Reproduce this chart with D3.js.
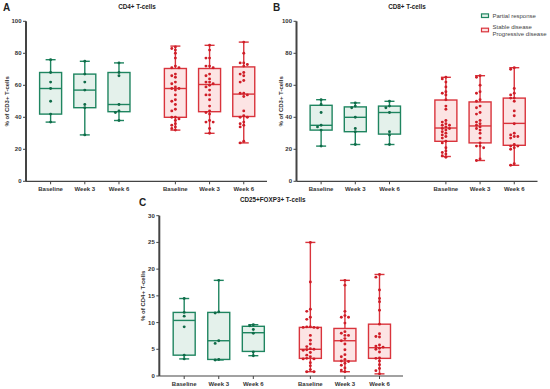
<!DOCTYPE html>
<html>
<head>
<meta charset="utf-8">
<script src="https://cdn.jsdelivr.net/npm/d3@7"></script>
<style>
    body { margin: 0; background: #fff; }
    svg { display: block; font-family: "Liberation Sans", Arial, sans-serif; }
    .tick-label { font-size: 6px; font-weight: bold; fill: #333; }
    .panel-title { font-size: 6.3px; font-weight: bold; fill: #222; }
    .panel-letter { font-size: 10px; font-weight: bold; fill: #222; }
    .legend-text { font-size: 6px; fill: #444; }
</style>
</head>
<body>
<svg id="chart" width="550" height="389"></svg>
<script>
// categories: first three = partial response, last three = stable / progressive disease
const categories = ['Baseline', 'Week 3', 'Week 6', 'Baseline', 'Week 3', 'Week 6'];
const groupOf = ['pr', 'pr', 'pr', 'sd', 'sd', 'sd'];
const legendLabels = ['Partial response', 'Stable disease', 'Progressive disease'];

// box stats per category: [min, q1, median, q3, max]
const cd4Boxes = [
    [37, 42, 58, 68, 76],
    [29, 46, 57, 67, 75],
    [38, 43.5, 48, 68, 74],
    [32, 40, 58, 70.5, 84.5],
    [30, 43.5, 60.5, 70.5, 85],
    [24, 40.5, 54.5, 71.5, 87],
];
const cd4Points = [
    [76, 68, 62, 58, 50, 42, 37],
    [75, 67, 62, 57, 48, 46, 29],
    [74, 68, 66, 48, 44, 43, 38],
    [84, 83, 82, 80, 77, 72, 71, 71, 67, 66, 65, 62, 61, 59, 58, 58, 57, 54, 51, 50, 48, 45, 44, 40, 40, 39, 38, 36, 35, 34, 33, 32],
    [85, 82, 77, 77, 72, 72, 71, 67, 66, 64, 62, 62, 61, 60, 59, 57, 54, 54, 51, 47, 44, 43, 42, 38, 37, 37, 33, 30],
    [87, 80, 74, 74, 73, 72, 68, 67, 66, 63, 62, 55, 55, 54, 53, 44, 41, 40, 40, 37, 36, 35, 34, 25, 24],
];

const cd8Boxes = [
    [22, 32, 35, 47.5, 51],
    [23, 31, 40, 46.5, 49],
    [23, 29.5, 43, 47, 50],
    [15.5, 25, 33.3, 50.8, 65],
    [13, 24, 34.6, 49.6, 66],
    [10, 22.5, 36.2, 52, 71],
];
const cd8Points = [
    [51, 48, 43, 35, 34, 32, 22],
    [49, 47, 46, 40, 33, 31, 23],
    [50, 47, 46, 43, 31, 29, 23],
    [65, 64, 62, 59, 56, 55, 54, 51, 47, 45, 38, 37, 36, 35, 35, 34, 33, 33, 32, 31, 30, 29, 28, 27, 25, 24, 21, 19, 18, 17, 16, 15],
    [66, 65, 60, 56, 55, 51, 50, 47, 46, 43, 42, 38, 37, 36, 35, 34, 33, 32, 30, 27, 24, 22, 22, 21, 14, 13],
    [71, 70, 58, 55, 54, 52, 52, 50, 44, 41, 36, 30, 29, 28, 28, 27, 23, 22, 22, 21, 20, 11, 10],
];

const tregBoxes = [
    [3.2, 3.9, 10.4, 11.9, 14.5],
    [3.0, 3.1, 6.6, 11.9, 17.9],
    [3.8, 4.6, 8.1, 9.3, 9.6],
    [0.8, 3.3, 5.0, 9.1, 25],
    [0.8, 2.8, 6.6, 8.9, 17.9],
    [0.4, 3.3, 5.3, 9.7, 19],
];
const tregPoints = [
    [14.5, 11.9, 11.2, 9.2, 3.9, 3.2],
    [17.9, 12, 11.8, 6.6, 6.1, 3.1, 3.0],
    [9.6, 9.4, 8.7, 8.0, 4.5, 3.8],
    [25, 17.6, 12.5, 12.1, 11.0, 10.6, 9.2, 9.2, 9.1, 9.1, 9.0, 7.6, 6.7, 6.0, 5.5, 5.1, 5.0, 4.9, 4.8, 4.4, 3.9, 3.6, 3.3, 3.2, 3.2, 2.5, 1.9, 1.2, 0.8, 0.8],
    [17.9, 17.0, 12.1, 11.3, 11.0, 11.0, 9.9, 8.3, 8.0, 7.6, 7.6, 7.0, 6.6, 6.0, 4.9, 4.0, 3.6, 3.1, 2.8, 2.7, 2.4, 2.0, 1.5, 1.1, 0.8],
    [19, 18.5, 16.1, 14.5, 13.9, 12.3, 9.7, 7.9, 7.4, 7.3, 5.8, 5.6, 5.4, 5.2, 5.0, 4.5, 3.4, 3.3, 2.8, 2.1, 1.4, 1.0, 0.4],
];

const cd4Ticks = [0, 20, 40, 60, 80, 100];
const tregTicks = [0, 5, 10, 15, 20, 25, 30];

const colors = {
    pr: { stroke: '#1f8560', fill: '#e4f1eb', dot: '#0f6b48' },
    sd: { stroke: '#d9343c', fill: '#fce4e4', dot: '#cf1e28' },
};

// category positions with a gap between the two response groups
const slotPos = [0, 1, 2, 3.65, 4.65, 5.65];

const svg = d3.select('#chart');

// spread overlapping points sideways (GraphPad style scatter)
function spreadPoints(values, y, step, minGap) {
    const placed = [];
    const sorted = values.slice().sort((a, b) => b - a);
    return sorted.map((v) => {
        const py = y(v);
        const offsets = [0, -1, 1, -2, 2, -3, 3, -4, 4];
        let off = 0;
        for (const o of offsets) {
            const ox = o * step;
            const clash = placed.some((p) => Math.abs(p.y - py) < minGap && Math.abs(p.x - ox) < step * 0.9);
            if (!clash) { off = ox; break; }
        }
        placed.push({ x: off, y: py });
        return { v, x: off, y: py };
    });
}

function drawPanel(opts) {
    const g = svg.append('g');
    const x = d3.scaleLinear().domain([-0.72, 6.33]).range(opts.xRange);
    const y = d3.scaleLinear().domain(opts.yDomain).range(opts.yRange);
    const boxW = 22;
    const capW = 10;

    // y axis
    g.append('line')
        .attr('x1', opts.xRange[0]).attr('x2', opts.xRange[0])
        .attr('y1', y(opts.yDomain[0])).attr('y2', y(opts.yDomain[1]))
        .attr('stroke', '#444').attr('stroke-width', 2);
    opts.ticks.forEach((t) => {
        g.append('line')
            .attr('x1', opts.xRange[0] - 3).attr('x2', opts.xRange[0])
            .attr('y1', y(t)).attr('y2', y(t))
            .attr('stroke', '#444').attr('stroke-width', 1);
        g.append('text')
            .attr('class', 'tick-label')
            .attr('x', opts.xRange[0] - 4.5)
            .attr('y', y(t) + 2)
            .attr('text-anchor', 'end')
            .text(t);
    });

    // x axis
    g.append('line')
        .attr('x1', opts.xRange[0]).attr('x2', opts.xRange[1])
        .attr('y1', y(0)).attr('y2', y(0))
        .attr('stroke', '#444').attr('stroke-width', 1.2);
    categories.forEach((c, i) => {
        const cx = x(slotPos[i]);
        g.append('line')
            .attr('x1', cx).attr('x2', cx)
            .attr('y1', y(0)).attr('y2', y(0) + 3)
            .attr('stroke', '#444').attr('stroke-width', 1);
        g.append('text')
            .attr('class', 'tick-label')
            .attr('x', cx)
            .attr('y', y(0) + 10)
            .attr('text-anchor', 'middle')
            .text(c);
    });

    // y axis title
    const midY = (y(opts.yDomain[0]) + y(opts.yDomain[1])) / 2;
    g.append('text')
        .attr('class', 'tick-label')
        .attr('transform', `translate(${ opts.yLabelX }, ${ midY }) rotate(-90)`)
        .attr('text-anchor', 'middle')
        .attr('dy', '0.35em')
        .text(opts.yLabel);

    // title and panel letter
    g.append('text')
        .attr('class', 'panel-title')
        .attr('x', opts.titleX).attr('y', opts.titleY)
        .attr('text-anchor', 'middle')
        .text(opts.title);
    g.append('text')
        .attr('class', 'panel-letter')
        .attr('x', opts.letterX).attr('y', opts.letterY)
        .text(opts.letter);

    // boxes
    opts.boxes.forEach((b, i) => {
        const c = colors[groupOf[i]];
        const cx = x(slotPos[i]);
        const [mn, q1, med, q3, mx] = b;
        const bg = g.append('g');
        bg.append('line')
            .attr('x1', cx).attr('x2', cx).attr('y1', y(mx)).attr('y2', y(q3))
            .attr('stroke', c.stroke).attr('stroke-width', 1.4);
        bg.append('line')
            .attr('x1', cx).attr('x2', cx).attr('y1', y(q1)).attr('y2', y(mn))
            .attr('stroke', c.stroke).attr('stroke-width', 1.4);
        [mn, mx].forEach((v) => {
            bg.append('line')
                .attr('x1', cx - capW / 2).attr('x2', cx + capW / 2)
                .attr('y1', y(v)).attr('y2', y(v))
                .attr('stroke', c.stroke).attr('stroke-width', 1.4);
        });
        bg.append('rect')
            .attr('x', cx - boxW / 2).attr('y', y(q3))
            .attr('width', boxW).attr('height', y(q1) - y(q3))
            .attr('fill', c.fill)
            .attr('stroke', c.stroke).attr('stroke-width', 1.4);
        bg.append('line')
            .attr('x1', cx - boxW / 2).attr('x2', cx + boxW / 2)
            .attr('y1', y(med)).attr('y2', y(med))
            .attr('stroke', c.stroke).attr('stroke-width', 1.4);

        // points
        const pts = spreadPoints(opts.points[i], y, 3.6, 2.8);
        bg.selectAll('circle')
            .data(pts)
            .enter()
            .append('circle')
            .attr('cx', (d) => cx + d.x)
            .attr('cy', (d) => d.y)
            .attr('r', 1.45)
            .attr('fill', c.dot);
    });
}

drawPanel({
    xRange: [26, 267], yDomain: [0, 100], yRange: [181.3, 21.3], ticks: cd4Ticks,
    boxes: cd4Boxes, points: cd4Points,
    yLabel: '% of CD3+ T-cells', yLabelX: 7,
    title: 'CD4+ T-cells', titleX: 137, titleY: 9,
    letter: 'A', letterX: 3, letterY: 11,
});

drawPanel({
    xRange: [296.5, 537.5], yDomain: [0, 100], yRange: [181.3, 21.3], ticks: cd4Ticks,
    boxes: cd8Boxes, points: cd8Points,
    yLabel: '% of CD3+ T-cells', yLabelX: 281,
    title: 'CD8+ T-cells', titleX: 407, titleY: 9,
    letter: 'B', letterX: 273, letterY: 11,
});

drawPanel({
    xRange: [159.3, 403], yDomain: [0, 30], yRange: [376, 215.7], ticks: tregTicks,
    boxes: tregBoxes, points: tregPoints,
    yLabel: '% of CD4+ T-cells', yLabelX: 143,
    title: 'CD25+FOXP3+ T-cells', titleX: 272.7, titleY: 202,
    letter: 'C', letterX: 139, letterY: 206,
});

// legend (panel B)
const legend = svg.append('g').attr('transform', 'translate(481.5, 0)');
const legendItems = [
    { key: 'pr', y: 15.7, lines: [legendLabels[0]] },
    { key: 'sd', y: 30, lines: [legendLabels[1], legendLabels[2]] },
];
legendItems.forEach((d) => {
    legend.append('rect')
        .attr('x', 0).attr('y', d.y - 1.8)
        .attr('width', 7).attr('height', 3.6)
        .attr('fill', colors[d.key].fill)
        .attr('stroke', colors[d.key].stroke).attr('stroke-width', 1.2);
    d.lines.forEach((t, j) => {
        legend.append('text')
            .attr('class', 'legend-text')
            .attr('x', 11)
            .attr('y', d.y + 2.1 + (j - (d.lines.length - 1) / 2) * 7.2)
            .attr('textLength', t === 'Progressive disease' ? 54 : null)
            .attr('lengthAdjust', 'spacingAndGlyphs')
            .text(t);
    });
});
</script>
</body>
</html>
